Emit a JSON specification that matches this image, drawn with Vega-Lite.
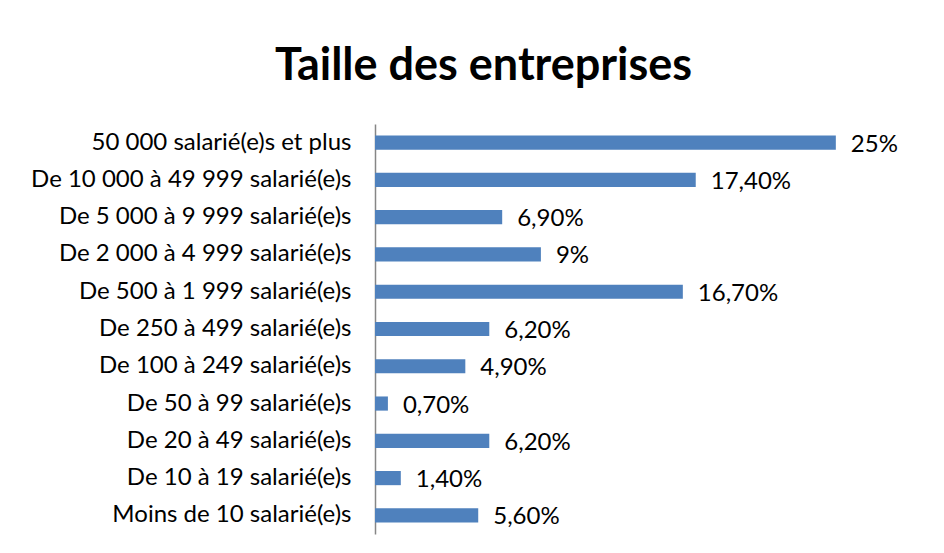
{
  "$schema": "https://vega.github.io/schema/vega-lite/v6.json",
  "autosize": "none",
  "width": 553,
  "height": 410,
  "padding": {"left": 375, "top": 124, "right": 16, "bottom": 19},
  "background": "white",
  "title": {
    "text": "Taille des entreprises",
    "font": "Lato",
    "fontSize": 45,
    "fontWeight": "bold",
    "color": "#000000",
    "anchor": "middle",
    "dx": -168,
    "baseline": "bottom",
    "offset": -10
  },
  "data": {
    "values": [
      {"categorie": "50 000 salarié(e)s et plus", "pct": 25, "label": "25%"},
      {"categorie": "De 10 000 à 49 999 salarié(e)s", "pct": 17.4, "label": "17,40%"},
      {"categorie": "De 5 000 à 9 999 salarié(e)s", "pct": 6.9, "label": "6,90%"},
      {"categorie": "De 2 000 à 4 999 salarié(e)s", "pct": 9, "label": "9%"},
      {"categorie": "De 500 à 1 999 salarié(e)s", "pct": 16.7, "label": "16,70%"},
      {"categorie": "De 250 à 499 salarié(e)s", "pct": 6.2, "label": "6,20%"},
      {"categorie": "De 100 à 249 salarié(e)s", "pct": 4.9, "label": "4,90%"},
      {"categorie": "De 50 à 99 salarié(e)s", "pct": 0.7, "label": "0,70%"},
      {"categorie": "De 20 à 49 salarié(e)s", "pct": 6.2, "label": "6,20%"},
      {"categorie": "De 10 à 19 salarié(e)s", "pct": 1.4, "label": "1,40%"},
      {"categorie": "Moins de 10 salarié(e)s", "pct": 5.6, "label": "5,60%"}
    ]
  },
  "encoding": {
    "y": {
      "field": "categorie",
      "type": "nominal",
      "sort": null,
      "scale": {"paddingInner": 0.62, "paddingOuter": 0.31},
      "axis": {
        "title": null,
        "ticks": false,
        "domainColor": "#868686",
        "domainWidth": 1.5,
        "labelFont": "Lato",
        "labelFontSize": 24,
        "labelColor": "#000000",
        "labelPadding": 24,
        "labelLimit": 400
      }
    },
    "x": {
      "field": "pct",
      "type": "quantitative",
      "scale": {"domain": [0, 30]},
      "axis": null
    }
  },
  "layer": [
    {"mark": {"type": "bar", "color": "#4F81BD"}},
    {
      "mark": {
        "type": "text",
        "align": "left",
        "baseline": "middle",
        "dx": 15,
        "dy": 2,
        "font": "Lato",
        "fontSize": 24,
        "color": "#000000"
      },
      "encoding": {"text": {"field": "label"}}
    }
  ],
  "config": {"view": {"stroke": null}}
}
